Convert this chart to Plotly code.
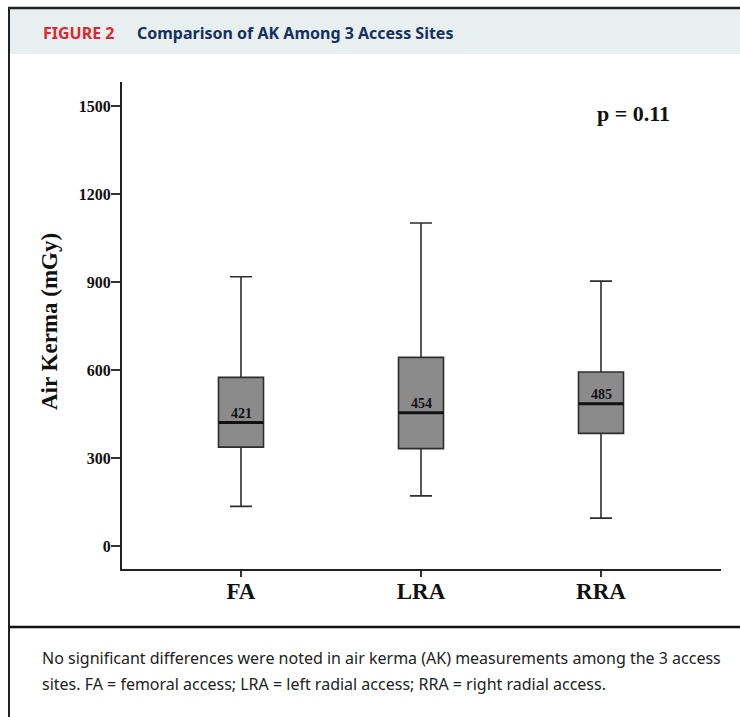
import plotly.graph_objects as go

# ---- data ----
categories = ["FA", "LRA", "RRA"]
positions = [0, 1, 2]
q1 = [337, 332, 384]
median = [421, 454, 485]
q3 = [575, 643, 593]
lower_whisker = [135, 171, 95]
upper_whisker = [918, 1101, 903]
y_ticks = [0, 300, 600, 900, 1200, 1500]
p_text = "p = 0.11"

W, H = 740, 717


def px(x):
    return x / W


def py(y):
    return 1 - y / H


SERIF = "Liberation Serif, Times New Roman, serif"
SANS = "Noto Sans, Open Sans, sans-serif"

fig = go.Figure()

fig.add_trace(go.Box(
    x=positions,
    q1=q1, median=median, q3=q3,
    lowerfence=lower_whisker, upperfence=upper_whisker,
    width=0.25,
    whiskerwidth=0.49,
    fillcolor="#8b8b8b",
    line=dict(color="#2e2e2e", width=1.6),
    boxpoints=False,
    showlegend=False,
    hoverinfo="skip",
))

# thicker median lines
fig.add_trace(go.Scatter(
    x=positions, y=median, mode="markers",
    marker=dict(symbol="line-ew", size=32,
                line=dict(color="#111111", width=3)),
    showlegend=False, hoverinfo="skip",
))

annotations = []
for xv, m in zip(positions, median):
    annotations.append(dict(
        x=xv, y=m, xref="x", yref="y", text=f"<b>{m}</b>",
        showarrow=False, yshift=9,
        font=dict(family=SERIF, size=14, color="#111111"),
    ))

annotations.append(dict(
    x=px(633), y=py(113), xref="paper", yref="paper",
    text=f"<b>{p_text}</b>", showarrow=False,
    xanchor="center", yanchor="middle",
    font=dict(family=SERIF, size=22, color="#111111"),
))

annotations.append(dict(
    x=px(50), y=py(322), xref="paper", yref="paper",
    text="<b>Air Kerma (mGy)</b>", showarrow=False, textangle=-90,
    xanchor="center", yanchor="middle",
    font=dict(family=SERIF, size=23, color="#111111"),
))

# header
annotations.append(dict(
    x=px(41), y=py(33), xref="paper", yref="paper",
    text="<b>FIGURE 2</b>", showarrow=False,
    xanchor="left", yanchor="middle",
    font=dict(family=SANS, size=16, color="#e2252f"),
))
annotations.append(dict(
    x=px(135), y=py(33), xref="paper", yref="paper",
    text="<b>Comparison of AK Among 3 Access Sites</b>", showarrow=False,
    xanchor="left", yanchor="middle",
    font=dict(family=SANS, size=16, color="#17305f"),
))

# caption
annotations.append(dict(
    x=px(40), y=py(658), xref="paper", yref="paper",
    text="No significant differences were noted in air kerma (AK) measurements among the 3 access",
    showarrow=False, xanchor="left", yanchor="middle",
    font=dict(family=SANS, size=16, color="#222222"),
))
annotations.append(dict(
    x=px(40), y=py(684), xref="paper", yref="paper",
    text="sites. FA = femoral access; LRA = left radial access; RRA = right radial access.",
    showarrow=False, xanchor="left", yanchor="middle",
    font=dict(family=SANS, size=16, color="#222222"),
))

shapes = [
    dict(type="rect", xref="paper", yref="paper",
         x0=px(9), x1=1, y0=py(54), y1=py(9),
         fillcolor="#e7f0ef", line=dict(width=0), layer="below"),
    dict(type="line", xref="paper", yref="paper",
         x0=px(8), x1=1, y0=py(8), y1=py(8),
         line=dict(color="#222222", width=2.5)),
    dict(type="line", xref="paper", yref="paper",
         x0=px(9), x1=px(9), y0=py(8), y1=0,
         line=dict(color="#222222", width=2)),
    dict(type="line", xref="paper", yref="paper",
         x0=px(9), x1=1, y0=py(627), y1=py(627),
         line=dict(color="#111111", width=2.5)),
]

# axis geometry: 0 at y=546, 1500 at y=106 -> 0.29333 px per unit
ax_top, ax_bot = 82, 569
scale = (546 - 106) / 1500
y_min = -(ax_bot - 546) / scale
y_max = (546 - ax_top) / scale
x_left, x_right = 122, 721
xscale = 180
x_min = (x_left - 241) / xscale
x_max = (x_right - 241) / xscale

fig.update_layout(
    width=W, height=H,
    margin=dict(l=0, r=0, t=0, b=0),
    paper_bgcolor="white", plot_bgcolor="white",
    xaxis=dict(
        domain=[px(x_left), px(x_right)],
        range=[x_min, x_max],
        tickmode="array", tickvals=positions,
        ticktext=[f"<b>{c}</b>" for c in categories],
        ticks="outside", ticklen=6, tickwidth=1.5, tickcolor="#333333",
        ticklabelstandoff=-6,
        showline=True, linecolor="#222222", linewidth=2,
        showgrid=False, zeroline=False,
        tickfont=dict(family=SERIF, size=23, color="#111111"),
    ),
    yaxis=dict(
        domain=[py(ax_bot), py(ax_top)],
        range=[y_min, y_max],
        tickmode="array", tickvals=y_ticks,
        ticks="outside", ticklen=9, tickwidth=1.5, tickcolor="#333333",
        ticklabelstandoff=-3,
        showline=True, linecolor="#222222", linewidth=2,
        showgrid=False, zeroline=False,
        tickfont=dict(family=SERIF, size=16, color="#111111", weight="bold"),
    ),
    annotations=annotations,
    shapes=shapes,
)

fig.write_html("out.html")
